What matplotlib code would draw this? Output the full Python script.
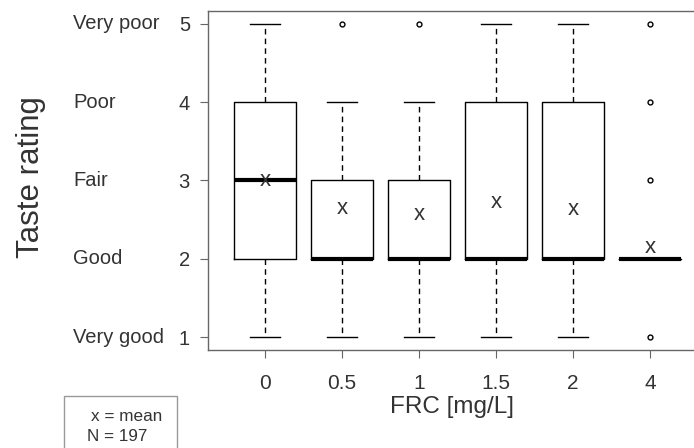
import matplotlib
matplotlib.use("Agg")
import matplotlib.pyplot as plt
import matplotlib.transforms as mtransforms
from matplotlib.patches import Rectangle

plt.rcParams["font.family"] = ["Liberation Sans", "DejaVu Sans"]

# data
doses = ["0", "0.5", "1", "1.5", "2", "4"]
q1 = [2, 2, 2, 2, 2, 2]
med = [3, 2, 2, 2, 2, 2]
q3 = [4, 3, 3, 4, 4, 2]
whislo = [1, 1, 1, 1, 1, 2]
whishi = [5, 4, 4, 5, 5, 2]
fliers = [[], [5], [5], [], [], [1, 3, 4, 5]]
means = [3.0, 2.64, 2.57, 2.72, 2.63, 2.15]

rating_vals = [1, 2, 3, 4, 5]
rating_names = ["Very good", "Good", "Fair", "Poor", "Very poor"]
n_total = 197

W, H = 694, 448
fig = plt.figure(figsize=(W / 100, H / 100), dpi=100)
# plot region runs past the right edge of the image
ax = fig.add_axes([208 / W, 98 / H, 499 / W, 339 / H])

txt = "#333333"
frame = "#666666"

stats = []
for i in range(len(doses)):
    stats.append(dict(q1=q1[i], med=med[i], q3=q3[i], whislo=whislo[i],
                      whishi=whishi[i], fliers=fliers[i], label=doses[i]))

pos = list(range(1, len(doses) + 1))
ax.bxp(stats, positions=pos, widths=0.8, showfliers=True, patch_artist=False,
       boxprops=dict(color="black", linewidth=1.0),
       medianprops=dict(color="black", linewidth=3.0, solid_capstyle="butt"),
       whiskerprops=dict(color="black", linewidth=1.0, linestyle=(0, (4, 3))),
       capprops=dict(color="black", linewidth=1.0),
       capwidths=0.4,
       flierprops=dict(marker="o", markersize=3.5, markerfacecolor="white",
                       markeredgecolor="black", markeredgewidth=1.0))

for p, m in zip(pos, means):
    ax.text(p, m, "x", ha="center", va="center", fontsize=16, color=txt)

ax.set_xlim(0.26, 6.74)
ax.set_ylim(0.84, 5.16)
ax.set_xticks(pos)
ax.set_xticklabels(doses, fontsize=15, color=txt)
ax.set_yticks(rating_vals)
ax.set_yticklabels([str(v) for v in rating_vals], fontsize=14.5, color=txt)
ax.tick_params(axis="x", length=6, pad=11, color=frame)
ax.tick_params(axis="y", length=6, pad=7, color=frame)

for s in ["left", "top", "bottom"]:
    ax.spines[s].set_color(frame)
    ax.spines[s].set_linewidth(1.0)
ax.spines["right"].set_visible(False)

# verbal rating names to the left of the numbers
tr = mtransforms.blended_transform_factory(fig.transFigure, ax.transData)
for v, name in zip(rating_vals, rating_names):
    ax.text(73 / W, v, name, transform=tr, ha="left", va="center",
            fontsize=14.5, color=txt, clip_on=False)

fig.text(31 / W, 1 - 177 / H, "Taste rating", rotation=90, ha="center",
         va="center", fontsize=22.5, color=txt)
fig.text(452 / W, 1 - 407 / H, "FRC [mg/L]", ha="center", va="center",
         fontsize=17.5, color=txt)

# small key box, bottom left
fig.patches.append(Rectangle((64 / W, -10 / H), 113 / W, 62 / H,
                             transform=fig.transFigure, fill=False,
                             edgecolor="#999999", linewidth=1.0))
fig.text(127 / W, 1 - 416 / H, "x = mean", ha="center", va="center",
         fontsize=12.3, color=txt)
fig.text(117 / W, 1 - 436 / H, "N = %d" % n_total, ha="center", va="center",
         fontsize=12.3, color=txt)

fig.savefig("out.png", dpi=100)
